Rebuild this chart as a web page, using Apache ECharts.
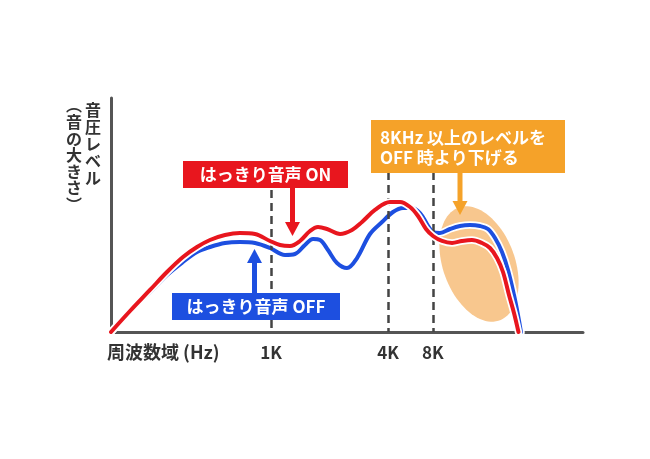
<!DOCTYPE html>
<html>
<head>
<meta charset="utf-8">
<script src="https://cdn.jsdelivr.net/npm/echarts@6/dist/echarts.min.js"></script>
<style>html,body{margin:0;padding:0;background:#fff}#c{width:650px;height:459px}</style>
</head>
<body>
<div id="c"></div>
<script>
// ---- data (schematic frequency scale 0-100, level 0-100) ----
const onFreq  = [0, 4.03, 8.26, 11.86, 15.25, 18.22, 20.97, 24.15, 27.33, 30.51, 33.69, 35.81, 37.92, 40.04, 42.16, 43.86, 45.76, 48.52, 51.06, 53.18, 55.93, 59.11, 61.23, 63.35, 65.04, 66.74, 68.22, 70.13, 72.25, 74.36, 76.48, 78.60, 80.30, 81.78, 83.05, 84.32, 85.38, 86.33];
const onLevel = [0, 8.97, 17.95, 25.64, 32.05, 36.32, 39.32, 41.45, 42.31, 41.88, 38.89, 37.18, 36.75, 38.89, 43.16, 44.87, 44.02, 41.88, 43.59, 47.01, 52.14, 55.56, 55.56, 53.42, 49.57, 44.02, 41.03, 38.89, 38.03, 38.89, 39.32, 38.03, 35.90, 31.62, 25.64, 15.81, 8.12, 0];
const offFreq  = [0, 4.03, 8.26, 11.86, 15.25, 18.22, 20.97, 24.15, 27.33, 30.51, 33.69, 36.86, 38.98, 41.10, 42.80, 44.28, 45.97, 47.88, 50.00, 52.12, 54.87, 57.42, 59.75, 61.86, 63.77, 65.47, 66.95, 68.22, 69.70, 71.82, 73.94, 76.06, 78.18, 79.87, 81.36, 82.84, 84.11, 85.38, 86.23, 86.86];
const offLevel = [0, 8.55, 17.09, 24.36, 29.91, 34.19, 36.32, 38.03, 38.46, 38.03, 35.90, 32.91, 33.33, 37.18, 39.74, 39.32, 35.04, 29.49, 27.35, 31.62, 41.88, 47.01, 51.28, 52.99, 52.99, 50.85, 46.15, 42.74, 42.31, 44.02, 45.30, 45.73, 45.30, 44.02, 40.17, 34.19, 26.50, 15.81, 7.26, 0];
const xTicks = [33.9, 58.7, 68.2];
const xTickLabels = ['1K', '4K', '8K'];
const dashTop = [60.7, 68.4, 68.4];

const FONT = '"Noto Sans CJK JP", "Noto Sans", sans-serif';
const RED = '#e8161e', BLUE = '#1d4fe0', ORANGE = '#f5a229', ELLIPSE = '#f8c78e';

const zip = (a, b) => a.map((v, i) => [v, b[i]]);
const chart = echarts.init(document.getElementById('c'), null, {renderer: 'canvas'});

const lineSeries = (name, data, color, width, z) => ({
  name, type: 'line', data, smooth: 0.35, showSymbol: false, symbol: 'none', silent: true, z,
  lineStyle: {color, width, cap: 'round', join: 'round'}
});

chart.setOption({
  animation: false,
  grid: {left: 111, right: 67, top: 98, bottom: 127},
  xAxis: {
    type: 'value', min: 0, max: 100,
    axisLine: {show: true, onZero: false, lineStyle: {color: '#555', width: 3}},
    axisTick: {show: false}, splitLine: {show: false},
    axisLabel: {
      customValues: xTicks,
      formatter: v => { const i = xTicks.findIndex(t => Math.abs(t - v) < 0.01); return i >= 0 ? xTickLabels[i] : ''; },
      color: '#333', fontSize: 17, fontWeight: 'bold', fontFamily: FONT, margin: 12
    }
  },
  yAxis: {
    type: 'value', min: 0, max: 100,
    axisLine: {show: true, lineStyle: {color: '#555', width: 3}},
    axisTick: {show: false}, splitLine: {show: false}, axisLabel: {show: false}
  },
  series: [
    {
      type: 'line', data: [], z: 1, silent: true,
      markLine: {
        silent: true, symbol: 'none', label: {show: false},
        lineStyle: {color: '#444', width: 2.5, type: [8, 5]},
        data: xTicks.map((t, i) => [{coord: [t, dashTop[i]]}, {coord: [t, 0]}])
      }
    },
    lineSeries('offOutline', zip(offFreq, offLevel), '#ffffff', 7.5, 3),
    lineSeries('off', zip(offFreq, offLevel), BLUE, 4, 4),
    lineSeries('onOutline', zip(onFreq, onLevel), '#ffffff', 7.5, 5),
    lineSeries('on', zip(onFreq, onLevel), RED, 4, 6)
  ]
});

// ---- annotations ----
function ellipsePts(cx, cy, rx, ry, phi) {
  const pts = [];
  for (let i = 0; i < 90; i++) {
    const t = i / 90 * Math.PI * 2;
    const u = rx * Math.cos(t), v = ry * Math.sin(t);
    pts.push([cx + u * Math.cos(phi) - v * Math.sin(phi), cy + u * Math.sin(phi) + v * Math.cos(phi)]);
  }
  return pts;
}
const c = chart.convertToPixel({gridIndex: 0}, [77.97, 29.06]);
function arrow(x, yBase, yTip, color, dir) {
  const headLen = 14, headW = 7.5, shaftW = 5;
  const yHead = yTip - dir * headLen;
  return [
    {type: 'rect', z: 100, shape: {x: x - shaftW / 2, y: Math.min(yBase, yHead), width: shaftW, height: Math.abs(yHead - yBase)}, style: {fill: color}},
    {type: 'polygon', z: 100, shape: {points: [[x - headW, yHead], [x + headW, yHead], [x, yTip]]}, style: {fill: color}}
  ];
}
const txt = (text, x, y, align, size, fill) => ({
  type: 'text', z: 101, style: {text, x, y, align, verticalAlign: 'middle', fill, font: 'bold ' + size + 'px ' + FONT}
});

chart.setOption({
  graphic: [
    {type: 'polygon', z: 1, shape: {points: ellipsePts(c[0], c[1], 36, 60, -0.35)}, style: {fill: ELLIPSE}},
    {type: 'rect', z: 100, shape: {x: 183, y: 161, width: 165, height: 27}, style: {fill: RED}},
    txt('はっきり音声 ON', 265.5, 175, 'center', 17, '#fff'),
    ...arrow(292.5, 188, 236, RED, 1),
    {type: 'rect', z: 100, shape: {x: 172, y: 293, width: 168, height: 27}, style: {fill: BLUE}},
    txt('はっきり音声 OFF', 256, 307, 'center', 17, '#fff'),
    ...arrow(254.5, 293, 249, BLUE, -1),
    {type: 'rect', z: 100, shape: {x: 371, y: 120, width: 194, height: 53}, style: {fill: ORANGE}},
    txt('8KHz 以上のレベルを', 380, 138, 'left', 17, '#fff'),
    txt('OFF 時より下げる', 380, 158, 'left', 17, '#fff'),
    ...arrow(460, 173, 215, ORANGE, 1),
    txt('周波数域 (Hz)', 107, 352, 'left', 18, '#333'),
    {type: 'text', z: 101, style: {text: '音\n圧\nレ\nベ\nル', x: 93, y: 101, align: 'center', verticalAlign: 'top', lineHeight: 17.2, fill: '#333', font: 'bold 16px ' + FONT}},
    {type: 'text', z: 101, style: {text: '︵\n音\nの\n大\nき\nさ\n︶', x: 74, y: 97, align: 'center', verticalAlign: 'top', lineHeight: 16.6, fill: '#333', font: 'bold 16px ' + FONT}}
  ]
});
</script>
</body>
</html>
